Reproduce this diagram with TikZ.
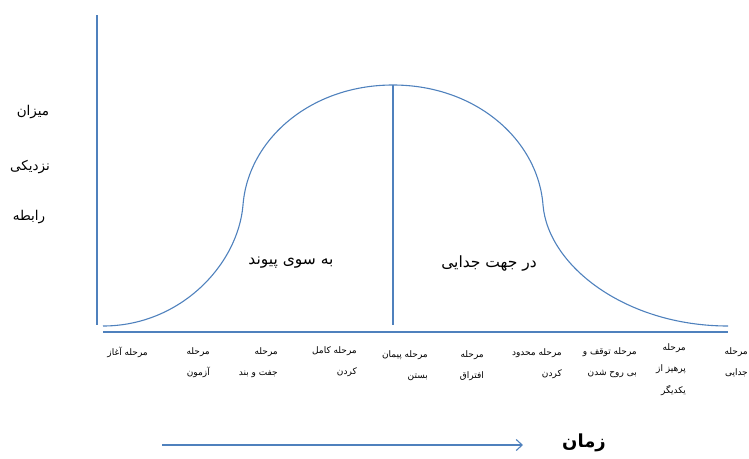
\documentclass[tikz,border=0pt]{standalone}
\usepackage{fontspec}
\TeXXeTstate=1
\newfontfamily\arabicfont[Script=Arabic]{DejaVu Sans}
\newcommand\fa[1]{\beginR#1\endR}
\usetikzlibrary{arrows.meta}
\definecolor{lineblue}{RGB}{79,129,189}
\begin{document}
\begin{tikzpicture}[x=1pt,y=-1pt,
  axis/.style={draw=lineblue,line width=1.6pt},
  curve/.style={draw=lineblue,line width=1.1pt},
  stage/.style={font=\arabicfont\fontsize{9}{21.5}\selectfont,align=right,anchor=north east,inner sep=0pt},
  ylab/.style={font=\arabicfont\fontsize{13.5}{15}\selectfont,inner sep=0pt},
  phase/.style={font=\arabicfont\fontsize{15.5}{17}\selectfont,inner sep=0pt}]
\useasboundingbox (0,0) rectangle (749,458);
% axes
\coordinate (ytop) at (97,15);
\coordinate (ybot) at (97,325);
\coordinate (xl) at (103,332);
\coordinate (xr) at (728,332);
\draw[axis] (ytop) -- (ybot);
\draw[axis] (xl) -- (xr);
% curve
\coordinate (c0) at (103,326);
\coordinate (c1) at (243,205);
\coordinate (peak) at (393,85);
\coordinate (c3) at (543,205);
\coordinate (c4) at (728,326);
\coordinate (peakfoot) at (393,325);
\draw[curve] (c0) .. controls (180,326) and (238,265) .. (c1)
  .. controls (248,140) and (310,85) .. (peak)
  .. controls (476,85) and (538,140) .. (c3)
  .. controls (548,266) and (626,326) .. (c4);
\draw[curve] (peak) -- (peakfoot);
% y labels
\node[ylab] (y1) at (33,112) {\fa{میزان}};
\node[ylab] (y2) at (30,167) {\fa{نزدیکی}};
\node[ylab] (y3) at (29,217) {\fa{رابطه}};
% phase labels
\node[phase] (p1) at (291,263) {\fa{به سوی پیوند}};
\node[phase] (p2) at (489,263) {\fa{در جهت جدایی}};
% stage labels
\node[stage] (s1) at (148,347) {\fa{مرحله آغاز}};
\node[stage] (s2) at (210,347) {\fa{مرحله}\\\fa{آزمون}};
\node[stage] (s3) at (278,347) {\fa{مرحله}\\\fa{جفت و بند}};
\node[stage] (s4) at (357,346) {\fa{مرحله کامل}\\\fa{کردن}};
\node[stage] (s5) at (428,350) {\fa{مرحله پیمان}\\\fa{بستن}};
\node[stage] (s6) at (484,350) {\fa{مرحله}\\\fa{افتراق}};
\node[stage] (s7) at (562,348) {\fa{مرحله محدود}\\\fa{کردن}};
\node[stage] (s8) at (637,347) {\fa{مرحله توقف و}\\\fa{بی روح شدن}};
\node[stage] (s9) at (686,343) {\fa{مرحله}\\\fa{پرهیز از}\\\fa{یکدیگر}};
\node[stage] (s10) at (748,347) {\fa{مرحله}\\\fa{جدایی}};
% time arrow
\coordinate (ta) at (162,445);
\coordinate (tb) at (523,445);
\draw[draw=lineblue,line width=1.1pt,-{Straight Barb[length=6pt,width=11pt]}] (ta) -- (tb);
\node[font=\arabicfont\bfseries\fontsize{18}{20}\selectfont,inner sep=0pt] (time) at (584,443) {\fa{زمان}};
\end{tikzpicture}
\end{document}
